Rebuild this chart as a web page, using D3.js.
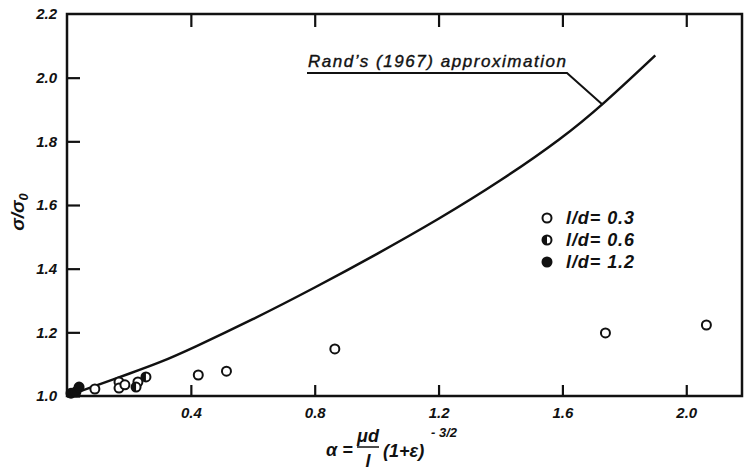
<!DOCTYPE html>
<html>
<head>
<meta charset="utf-8">
<script src="https://cdn.jsdelivr.net/npm/d3@7"></script>
<style>
    body { margin: 0; background: #fff; }
    svg text { font-family: "Liberation Sans", Arial, sans-serif; fill: #111; }
</style>
</head>
<body>
<svg width="744" height="471"></svg>
<script>
// Rand's (1967) approximation
var curveX = [0, 0.1, 0.2, 0.3, 0.4, 0.6, 0.8, 1.0, 1.2, 1.4, 1.6, 1.73, 1.9];
var curveY = [1.0, 1.035, 1.07, 1.105, 1.148, 1.24, 1.34, 1.445, 1.555, 1.675, 1.81, 1.915, 2.07];

// measured points, l/d = 0.3 (open circles)
var openX = [0.09, 0.168, 0.168, 0.187, 0.229, 0.424, 0.515, 0.865, 1.739, 2.065];
var openY = [1.022, 1.044, 1.025, 1.035, 1.044, 1.066, 1.078, 1.148, 1.198, 1.223];

// l/d = 0.6 (half filled)
var halfX = [0.223, 0.255];
var halfY = [1.028, 1.06];

// l/d = 1.2 (filled)
var fullX = [0.013, 0.029, 0.039];
var fullY = [1.009, 1.013, 1.028];

var legendLabels = ["l/d= 0.3", "l/d= 0.6", "l/d= 1.2"];
var xTicks = [0.4, 0.8, 1.2, 1.6, 2.0];
var yTicks = [1.0, 1.2, 1.4, 1.6, 1.8, 2.0, 2.2];

var svg = d3.select("svg");

var x = d3.scaleLinear().domain([0, 2.18]).range([67, 742]);
var y = d3.scaleLinear().domain([1.0, 2.2]).range([396, 14]);

var lblFont = "bold italic 15px 'Liberation Sans', Arial, sans-serif";

// bottom axis
var gx = svg.append("g")
    .attr("transform", "translate(0,396)")
    .call(d3.axisBottom(x).tickValues(xTicks).tickSize(-11).tickPadding(11)
        .tickFormat(d3.format(".1f")));
gx.select(".domain").remove();

// top ticks
var gt = svg.append("g")
    .attr("transform", "translate(0,14)")
    .call(d3.axisTop(x).tickValues(xTicks).tickSize(-13).tickFormat(""));
gt.select(".domain").remove();

// left axis
var gy = svg.append("g")
    .attr("transform", "translate(67,0)")
    .call(d3.axisLeft(y).tickValues(yTicks).tickSize(-13).tickPadding(10)
        .tickFormat(d3.format(".1f")));
gy.select(".domain").remove();

[gx, gt, gy].forEach(function (g) {
    g.selectAll("line").attr("stroke", "#111").attr("stroke-width", 2.2);
    g.selectAll("text").style("font", lblFont).attr("fill", "#111");
});
gy.selectAll(".tick").filter(function (d) { return d === 2.2; }).select("line").remove();

// frame
svg.append("rect")
    .attr("x", x(0)).attr("y", y(2.2))
    .attr("width", x(2.18) - x(0)).attr("height", y(1.0) - y(2.2))
    .attr("fill", "none").attr("stroke", "#111").attr("stroke-width", 2.5);

// curve
var curveData = curveX.map(function (v, i) { return [v, curveY[i]]; });
svg.append("path")
    .datum(curveData)
    .attr("fill", "none")
    .attr("stroke", "#111")
    .attr("stroke-width", 2.5)
    .attr("d", d3.line()
        .x(function (d) { return x(d[0]); })
        .y(function (d) { return y(d[1]); })
        .curve(d3.curveBasis));

// annotation
svg.append("text")
    .attr("x", 308).attr("y", 67)
    .attr("textLength", 258)
    .style("font", "italic 17px 'Liberation Sans', Arial, sans-serif")
    .style("stroke", "#111").style("stroke-width", 0.4)
    .text("Rand\u2019s (1967) approximation");
svg.append("path")
    .attr("fill", "none").attr("stroke", "#111").attr("stroke-width", 2)
    .attr("d", "M307,73 L567,73 L" + x(1.73) + "," + y(1.915));

// markers
var r = 4.5;
var halfArc = d3.arc().innerRadius(0).outerRadius(r).startAngle(Math.PI).endAngle(2 * Math.PI);

function drawMarker(g, kind, cx, cy) {
    var m = g.append("g").attr("transform", "translate(" + cx + "," + cy + ")");
    m.append("circle").attr("r", r)
        .attr("fill", kind === "full" ? "#111" : "#fff")
        .attr("stroke", "#111").attr("stroke-width", 2);
    if (kind === "half") {
        m.append("path").attr("d", halfArc()).attr("fill", "#111");
    }
}

var pts = svg.append("g");
openX.forEach(function (v, i) { drawMarker(pts, "open", x(v), y(openY[i])); });
halfX.forEach(function (v, i) { drawMarker(pts, "half", x(v), y(halfY[i])); });
fullX.forEach(function (v, i) { drawMarker(pts, "full", x(v), y(fullY[i])); });

// legend
var kinds = ["open", "half", "full"];
legendLabels.forEach(function (lab, i) {
    var ly = 218 + i * 22;
    drawMarker(svg, kinds[i], 547, ly);
    svg.append("text")
        .attr("x", 566).attr("y", ly + 6)
        .attr("textLength", 68)
        .style("font", "bold italic 18px 'Liberation Sans', Arial, sans-serif")
        .text(lab);
});

// y title
var yt = svg.append("text")
    .attr("transform", "translate(24,212) rotate(-90)")
    .attr("text-anchor", "middle")
    .style("font", "bold italic 19px 'Liberation Sans', Arial, sans-serif");
yt.append("tspan").text("\u03c3/\u03c3");
yt.append("tspan").attr("dy", 4).style("font-size", "13px").text("0");

// x title
var xt = svg.append("g").style("font", "bold italic 18px 'Liberation Sans', Arial, sans-serif");
xt.append("text").attr("x", 326).attr("y", 456).text("\u03b1 =");
xt.append("text").attr("x", 368).attr("y", 442).attr("text-anchor", "middle").text("\u03bcd");
xt.append("line").attr("x1", 357).attr("x2", 379).attr("y1", 447).attr("y2", 447)
    .attr("stroke", "#111").attr("stroke-width", 1.5);
xt.append("text").attr("x", 368).attr("y", 467).attr("text-anchor", "middle").text("l");
xt.append("text").attr("x", 383).attr("y", 457).text("(1+\u03b5)");
xt.append("text").attr("x", 431).attr("y", 437).style("font-size", "13px").text("- 3/2");
</script>
</body>
</html>
